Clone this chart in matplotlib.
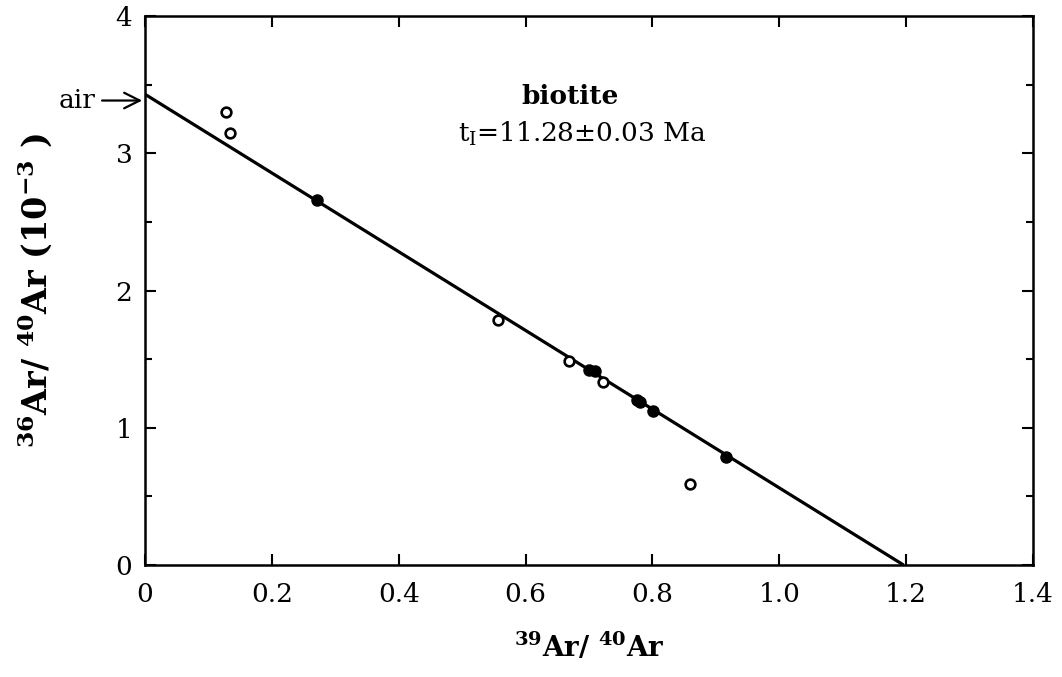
import matplotlib
matplotlib.use("Agg")
import matplotlib.pyplot as plt
import numpy as np

# ---- data ----
open_x = [0.128, 0.134, 0.556, 0.668, 0.722, 0.860]
open_y = [3.30, 3.15, 1.785, 1.49, 1.33, 0.59]
filled_x = [0.272, 0.700, 0.709, 0.775, 0.780, 0.801, 0.916]
filled_y = [2.66, 1.42, 1.41, 1.20, 1.19, 1.12, 0.79]
fit_y_intercept = 3.43
fit_x_intercept = 1.196
air_ratio = 3.384
x_ticks = [0, 0.2, 0.4, 0.6, 0.8, 1.0, 1.2, 1.4]
x_tick_labels = ["0", "0.2", "0.4", "0.6", "0.8", "1.0", "1.2", "1.4"]
y_ticks = [0, 1, 2, 3, 4]
y_tick_labels = ["0", "1", "2", "3", "4"]
title_text = "biotite"
age_text = r"t$_{\mathrm{I}}$=11.28±0.03 Ma"

plt.rcParams['font.family'] = ['DejaVu Serif']
plt.rcParams['mathtext.fontset'] = 'dejavuserif'

fig = plt.figure(figsize=(10.62, 6.77), dpi=100)
ax = fig.add_axes([0.1365, 0.1654, 0.9727 - 0.1365, 0.9764 - 0.1654])

# regression line
lx = np.array([0.0, fit_x_intercept])
ly = np.array([fit_y_intercept, 0.0])
ax.plot(lx, ly, color='black', lw=2.3, solid_capstyle='butt', zorder=2)

ax.plot(open_x, open_y, linestyle='none', marker='o', ms=7.0, mfc='white',
        mec='black', mew=1.9, zorder=3)
ax.plot(filled_x, filled_y, linestyle='none', marker='o', ms=8.0, mfc='black',
        mec='black', zorder=3)

ax.set_xlim(0, 1.4)
ax.set_ylim(0, 4)
ax.set_xticks(x_ticks)
ax.set_xticklabels(x_tick_labels)
ax.set_yticks(y_ticks)
ax.set_yticklabels(y_tick_labels)
ax.set_yticks(np.arange(0.5, 4, 1.0), minor=True)

ax.tick_params(axis='both', which='major', direction='in', top=True, right=True,
               length=8, width=1.5, labelsize=19)
ax.tick_params(axis='x', pad=12)
ax.tick_params(axis='y', pad=9)
ax.tick_params(axis='y', which='minor', direction='in', right=True, left=True,
               length=5, width=1.5)
for s in ax.spines.values():
    s.set_linewidth(1.8)

ax.set_xlabel(r"$\mathbf{^{39}}$Ar/ $\mathbf{^{40}}$Ar", fontsize=20,
              fontweight='bold', labelpad=18)
ax.set_ylabel(r"$\mathbf{^{36}}$Ar/ $\mathbf{^{40}}$Ar (10$^{\mathbf{-3}}$ )",
              fontsize=24, fontweight='bold', labelpad=44)

ax.text(0.67, 3.41, title_text, transform=ax.transData, ha='center', va='center',
        fontsize=19, fontweight='bold')
ax.text(0.69, 3.14, age_text, transform=ax.transData, ha='center', va='center',
        fontsize=19)

# air arrow
ax.annotate("", xy=(0.0, air_ratio), xytext=(-0.072, air_ratio),
            xycoords='data', textcoords='data',
            arrowprops=dict(arrowstyle='->', lw=1.6, color='black',
                            mutation_scale=28), annotation_clip=False)
ax.text(-0.078, air_ratio, "air", ha='right', va='center', fontsize=19,
        transform=ax.transData, clip_on=False)

fig.savefig("out.png", dpi=100)
